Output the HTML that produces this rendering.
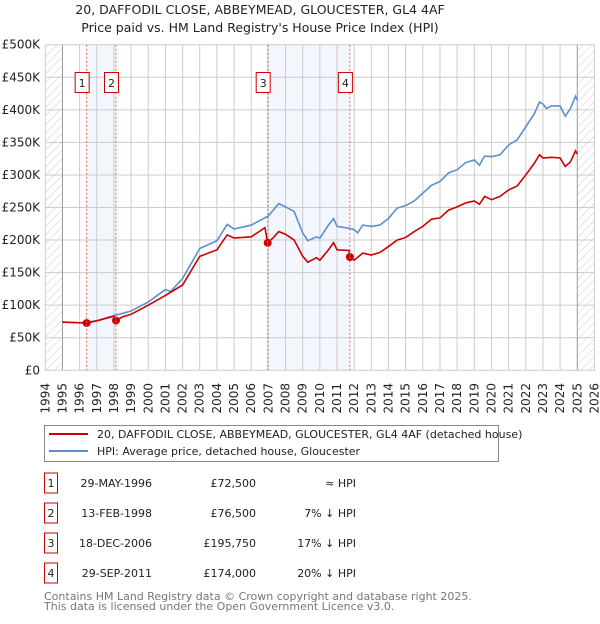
<!DOCTYPE html>
<html><head><meta charset="utf-8"><style>
body{margin:0;background:#fff;font-family:"DejaVu Sans","Liberation Sans",sans-serif;}
svg text{font-family:"DejaVu Sans","Liberation Sans",sans-serif;}
</style></head><body>
<svg id="chart" width="600" height="620" viewBox="0 0 600 620" xmlns="http://www.w3.org/2000/svg">
<defs><pattern id="hatch" width="6" height="6" patternUnits="userSpaceOnUse" patternTransform="rotate(45)"><line x1="0" y1="0" x2="0" y2="6" stroke="#ccc" stroke-width="1"/></pattern></defs>
<text x="260" y="14" font-size="12.5" text-anchor="middle" fill="#222">20, DAFFODIL CLOSE, ABBEYMEAD, GLOUCESTER, GL4 4AF</text>
<text x="260" y="32" font-size="12.5" text-anchor="middle" fill="#222">Price paid vs. HM Land Registry's House Price Index (HPI)</text>
<g id="bg"></g><g id="grid"></g><g id="axes"></g><g id="series"></g><g id="marks"></g>
<g>
<rect x="44.5" y="425.5" width="454" height="36" fill="#fff" stroke="#888"/>
<line x1="49" y1="434" x2="88" y2="434" stroke="#cc0000" stroke-width="2"/>
<text x="97" y="438" font-size="11" fill="#222">20, DAFFODIL CLOSE, ABBEYMEAD, GLOUCESTER, GL4 4AF (detached house)</text>
<line x1="49" y1="451" x2="88" y2="451" stroke="#5b8fd0" stroke-width="2"/>
<text x="97" y="455" font-size="11" fill="#222">HPI: Average price, detached house, Gloucester</text>
</g>
<g id="table"></g>
<text x="44" y="600" font-size="11" fill="#777">Contains HM Land Registry data © Crown copyright and database right 2025.</text>
<text x="44" y="610" font-size="11" fill="#777">This data is licensed under the Open Government Licence v3.0.</text>
</svg>
<script>
const hpiYears=[1995,1996,1997,1998,1999,2000,2001,2001.3,2002,2003,2004,2004.6,2005,2006,2007,2007.6,2008,2008.5,2009,2009.3,2009.8,2010,2010.5,2010.8,2011,2011.7,2012,2012.2,2012.5,2013,2013.5,2014,2014.5,2015,2015.5,2016,2016.5,2017,2017.5,2018,2018.5,2019,2019.3,2019.6,2020,2020.5,2021,2021.5,2022,2022.5,2022.8,2023,2023.2,2023.5,2024,2024.3,2024.6,2024.9,2025];
const hpiValues=[74,73,76,84,91,105,124,121,141,187,199,224,217,223,237,256,251,244,211,199,205,203,223,233,221,218,216,211,223,221,223,233,249,253,260,272,284,290,303,308,319,323,315,329,328,331,346,354,374,394,412,409,402,406,406,390,402,421,415];
const priceYears=[1995,1996,1996.41,1997,1998,1998.12,1998.5,1999,2000,2001,2002,2003,2004,2004.6,2005,2006,2006.8,2006.96,2007.3,2007.6,2008,2008.5,2009,2009.3,2009.8,2010,2010.5,2010.8,2011,2011.7,2011.75,2012,2012.5,2013,2013.5,2014,2014.5,2015,2015.5,2016,2016.5,2017,2017.5,2018,2018.5,2019,2019.3,2019.6,2020,2020.5,2021,2021.5,2022,2022.5,2022.8,2023,2023.5,2024,2024.3,2024.6,2024.9,2025];
const priceValues=[74,73,72.5,76,83,76.5,82,86,100,115,131,175,185,208,203,205,219,195.75,204,213,209,200,175,166,173,169,185,196,185,184,174,169,180,177,181,190,200,204,213,221,232,234,246,251,257,260,255,267,262,267,277,283,300,318,331,326,327,326,313,320,337,332];
const saleLabels=["1","2","3","4"];
const saleYears=[1996.41,1998.12,2006.96,2011.75];
const saleValues=[72.5,76.5,195.75,174];
const saleDates=["29-MAY-1996","13-FEB-1998","18-DEC-2006","29-SEP-2011"];
const salePrices=["£72,500","£76,500","£195,750","£174,000"];
const saleHpi=["≈ HPI","7% ↓ HPI","17% ↓ HPI","20% ↓ HPI"];
const yTicks=[0,50,100,150,200,250,300,350,400,450,500];
const yTickLabels=["£0","£50K","£100K","£150K","£200K","£250K","£300K","£350K","£400K","£450K","£500K"];
const xTicks=[1994,1995,1996,1997,1998,1999,2000,2001,2002,2003,2004,2005,2006,2007,2008,2009,2010,2011,2012,2013,2014,2015,2016,2017,2018,2019,2020,2021,2022,2023,2024,2025,2026];

const X0=45.3,PX=17.16,Y0=370.3,PY=0.6512;
const xs=y=>X0+(y-1994)*PX, ys=v=>Y0-v*PY;
const NS="http://www.w3.org/2000/svg";
function mk(tag,attrs,parent,txt){const e=document.createElementNS(NS,tag);for(const k in attrs)e.setAttribute(k,attrs[k]);if(txt!==undefined)e.textContent=txt;parent.appendChild(e);return e;}
const bg=document.getElementById('bg'),grid=document.getElementById('grid'),axes=document.getElementById('axes'),series=document.getElementById('series'),marks=document.getElementById('marks'),table=document.getElementById('table');
let r=mk('rect',{x:xs(saleYears[0]),y:ys(500),width:xs(saleYears[1])-xs(saleYears[0]),height:ys(0)-ys(500),fill:'#f3f6fd'},bg);

r=mk('rect',{x:xs(2007),y:ys(500),width:xs(saleYears[3])-xs(2007),height:ys(0)-ys(500),fill:'#f3f6fd'},bg);

r=mk('rect',{x:xs(1994),y:ys(500),width:xs(1995)-xs(1994),height:ys(0)-ys(500),fill:'url(#hatch)'},bg);

r=mk('rect',{x:xs(2025),y:ys(500),width:xs(2026)-xs(2025),height:ys(0)-ys(500),fill:'url(#hatch)'},bg);

yTicks.forEach((t,i)=>{
 const l=mk('line',{x1:xs(1994),x2:xs(2026),y1:ys(t),y2:ys(t),stroke:'#ccc','stroke-width':1},grid);
 
 const tx=mk('text',{x:40,y:ys(t)+4,'font-size':12,'text-anchor':'end',fill:'#222'},axes,yTickLabels[i]);
 
});
xTicks.forEach(t=>{
 const l=mk('line',{x1:xs(t),x2:xs(t),y1:ys(500),y2:ys(0),stroke:(t===1995||t===2025)?'#999':'#ccc','stroke-width':1},grid);
 
 const tx=mk('text',{x:0,y:0,'font-size':12,'text-anchor':'end',fill:'#222',transform:`translate(${xs(t)+4},383) rotate(-90)`},axes,String(t));
 
});
saleYears.forEach((s,i)=>{
 const l=mk('line',{x1:xs(s),x2:xs(s),y1:ys(500),y2:ys(0),stroke:'#e06060','stroke-width':1,'stroke-dasharray':'2,2'},marks);
 
 const b=mk('rect',{x:xs(s)-11.5,y:72.5,width:14,height:20,fill:'#fff',stroke:'#cc0000'},marks);
 
 const t=mk('text',{x:xs(s)-4.5,y:87,'font-size':11,'text-anchor':'middle',fill:'#222'},marks,saleLabels[i]);
 
});
const hp=mk('polyline',{points:hpiYears.map((y,i)=>xs(y)+','+ys(hpiValues[i])).join(' '),fill:'none',stroke:'#5b8fd0','stroke-width':1.6},series);

const pp=mk('polyline',{points:priceYears.map((y,i)=>xs(y)+','+ys(priceValues[i])).join(' '),fill:'none',stroke:'#cc0000','stroke-width':1.6},series);

saleYears.forEach((s,i)=>{
 const c=mk('circle',{cx:xs(s),cy:ys(saleValues[i]),r:4,fill:'#cc0000'},series);
 
});
saleLabels.forEach((lab,i)=>{
 const cy=483+i*30;
 const b=mk('rect',{x:44.5,y:cy-10,width:13,height:20,fill:'#fff',stroke:'#cc0000'},table);
 
 let t=mk('text',{x:51,y:cy+4,'font-size':11,'text-anchor':'middle',fill:'#222'},table,lab);
 
 t=mk('text',{x:152,y:cy+4,'font-size':11,'text-anchor':'end',fill:'#222'},table,saleDates[i]);
 
 t=mk('text',{x:256,y:cy+4,'font-size':11,'text-anchor':'end',fill:'#222'},table,salePrices[i]);
 
 t=mk('text',{x:356,y:cy+4,'font-size':11,'text-anchor':'end',fill:'#222'},table,saleHpi[i]);
 
});
</script>
</body></html>
